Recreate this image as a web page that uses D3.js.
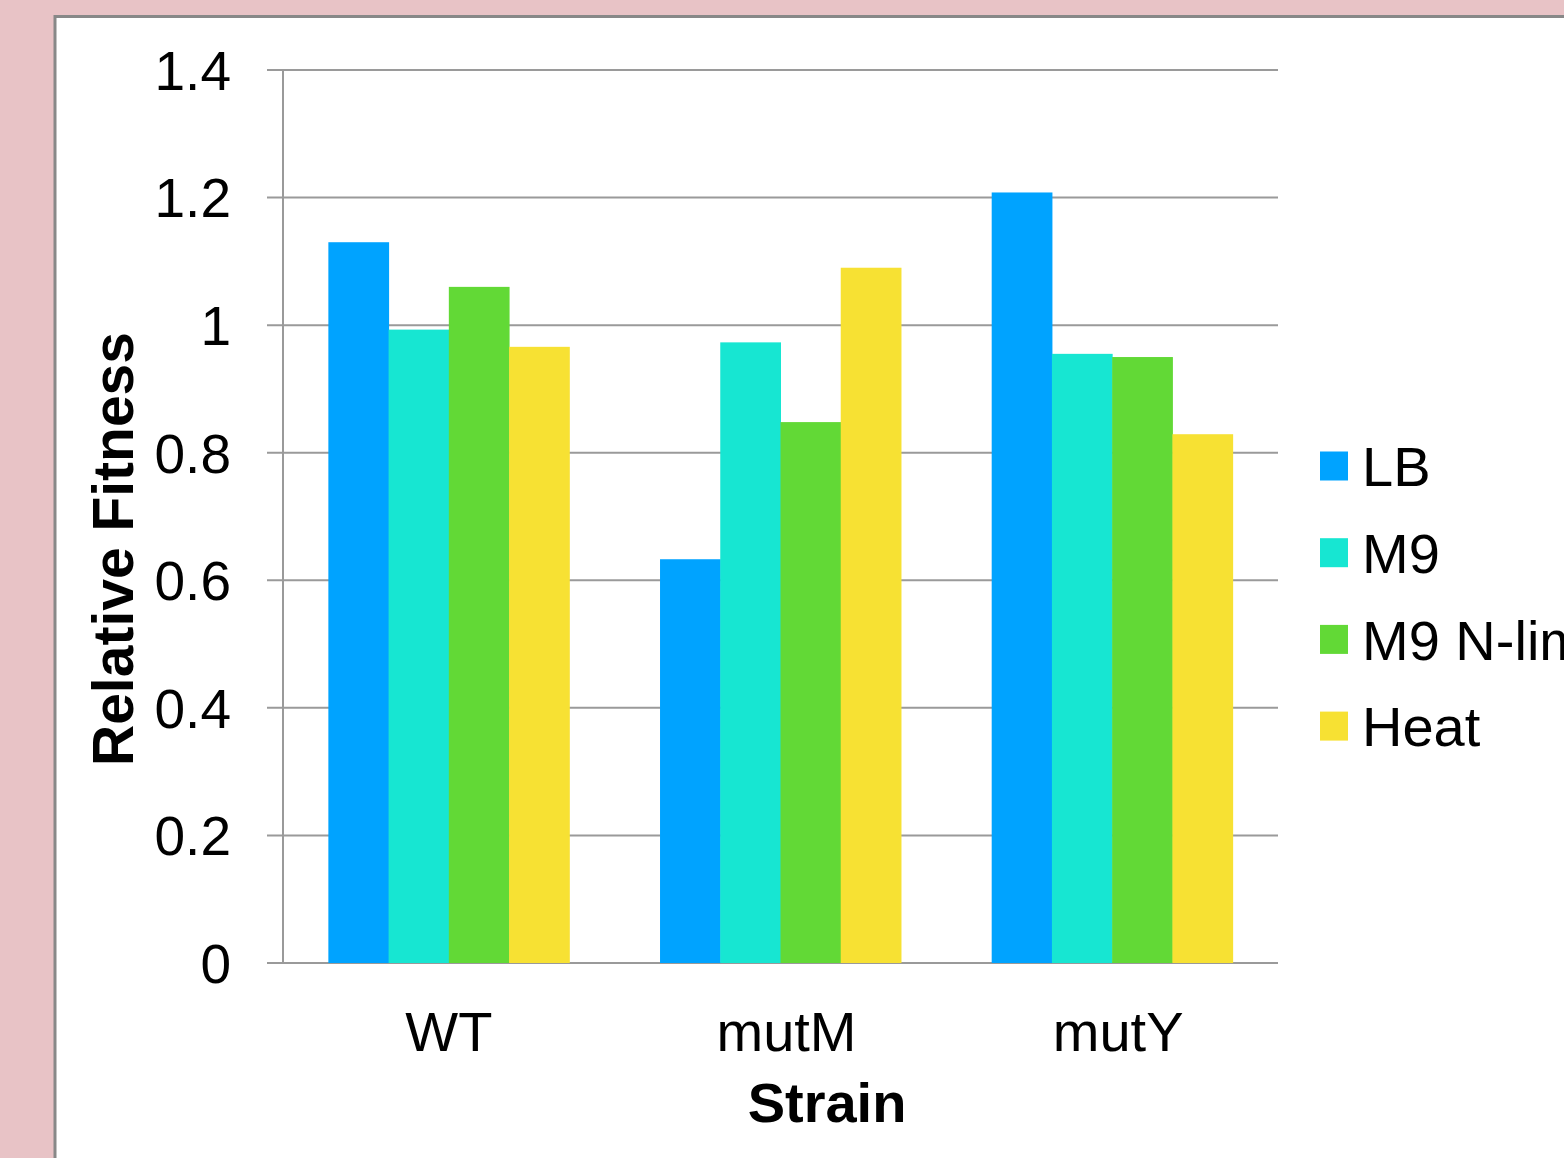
<!DOCTYPE html>
<html><head><meta charset="utf-8">
<script src="https://cdn.jsdelivr.net/npm/d3@7"></script>
<style>html,body{margin:0;padding:0;background:#e8c3c6;overflow:hidden}</style>
</head><body>
<svg id="c" width="1564" height="1158"></svg>
<script>
const categories = ["WT", "mutM", "mutY"];
const seriesNames = ["LB", "M9", "M9 N-lim", "Heat"];
const seriesColors = ["#00a3ff", "#17e6d2", "#62d936", "#f7e133"];
const LB = [1.13, 0.633, 1.208];
const M9 = [0.993, 0.973, 0.955];
const NLim = [1.06, 0.848, 0.95];
const Heat = [0.966, 1.09, 0.829];
const yTicks = [0, 0.2, 0.4, 0.6, 0.8, 1, 1.2, 1.4];
const yTickLabels = ["0", "0.2", "0.4", "0.6", "0.8", "1", "1.2", "1.4"];

const seriesValues = [LB, M9, NLim, Heat];
const data = categories.map((c, i) => ({cat: c, vals: seriesNames.map((s, j) => ({s, v: seriesValues[j][i], color: seriesColors[j]}))}));

const svg = d3.select("#c");
const font = "'Liberation Sans', Arial, sans-serif";

// panel
svg.append("rect").attr("x", 55).attr("y", 16.5).attr("width", 1600).attr("height", 1200)
  .attr("fill", "#fff").attr("stroke", "#888").attr("stroke-width", 3);

const pL = 283, pR = 1278, pT = 70, pB = 963;
const y = d3.scaleLinear().domain([0, 1.4]).range([pB, pT]);
const x0 = d3.scaleBand().domain(categories).range([pL, pR]).paddingInner(0).paddingOuter(0);
const x1 = d3.scaleBand().domain(seriesNames).range([0, x0.bandwidth()]).paddingInner(0).paddingOuter(0.753);

// gridlines
svg.append("g").selectAll("line").data(yTicks).join("line")
  .attr("x1", 267).attr("x2", pR).attr("y1", d => y(d)).attr("y2", d => y(d))
  .attr("stroke", "#9a9a9a").attr("stroke-width", 2);

// bars
const g = svg.append("g").selectAll("g").data(data).join("g")
  .attr("transform", d => `translate(${x0(d.cat)},0)`);
g.selectAll("rect").data(d => d.vals).join("rect")
  .attr("x", d => x1(d.s)).attr("width", x1.bandwidth() + 0.5)
  .attr("y", d => y(d.v)).attr("height", d => y(0) - y(d.v))
  .attr("fill", d => d.color);

// y axis line
svg.append("line").attr("x1", pL).attr("x2", pL).attr("y1", pT).attr("y2", pB)
  .attr("stroke", "#9a9a9a").attr("stroke-width", 2);

// y tick labels
svg.append("g").selectAll("text").data(yTicks).join("text")
  .attr("x", 231).attr("y", d => y(d)).attr("dy", "0.36em")
  .attr("text-anchor", "end").attr("font-family", font).attr("font-size", 55)
  .attr("fill", "#000").text((d, i) => yTickLabels[i]);

// x labels
svg.append("g").selectAll("text").data(categories).join("text")
  .attr("x", (d, i) => x0(d) + x0.bandwidth() / 2 + (i > 0 ? 6 : 0)).attr("y", 1051)
  .attr("text-anchor", "middle").attr("font-family", font).attr("font-size", 56)
  .attr("fill", "#000").text(d => d);

// axis titles
svg.append("text").attr("x", 827).attr("y", 1122)
  .attr("text-anchor", "middle").attr("font-family", font).attr("font-size", 56)
  .attr("font-weight", "bold").text("Strain");
svg.append("text").attr("transform", "translate(133,549) rotate(-90)")
  .attr("text-anchor", "middle").attr("font-family", font).attr("font-size", 57)
  .attr("font-weight", "bold").text("Relative Fitness");

// legend
const lg = svg.append("g").selectAll("g").data(seriesNames).join("g")
  .attr("transform", (d, i) => `translate(1320,${466 + i * 86.7})`);
lg.append("rect").attr("x", 0).attr("y", -14.5).attr("width", 28).attr("height", 29)
  .attr("fill", (d, i) => seriesColors[i]);
lg.append("text").attr("x", 42).attr("y", 0).attr("dy", "0.36em")
  .attr("font-family", font).attr("font-size", 56).attr("fill", "#000").text(d => d);
</script>
</body></html>
